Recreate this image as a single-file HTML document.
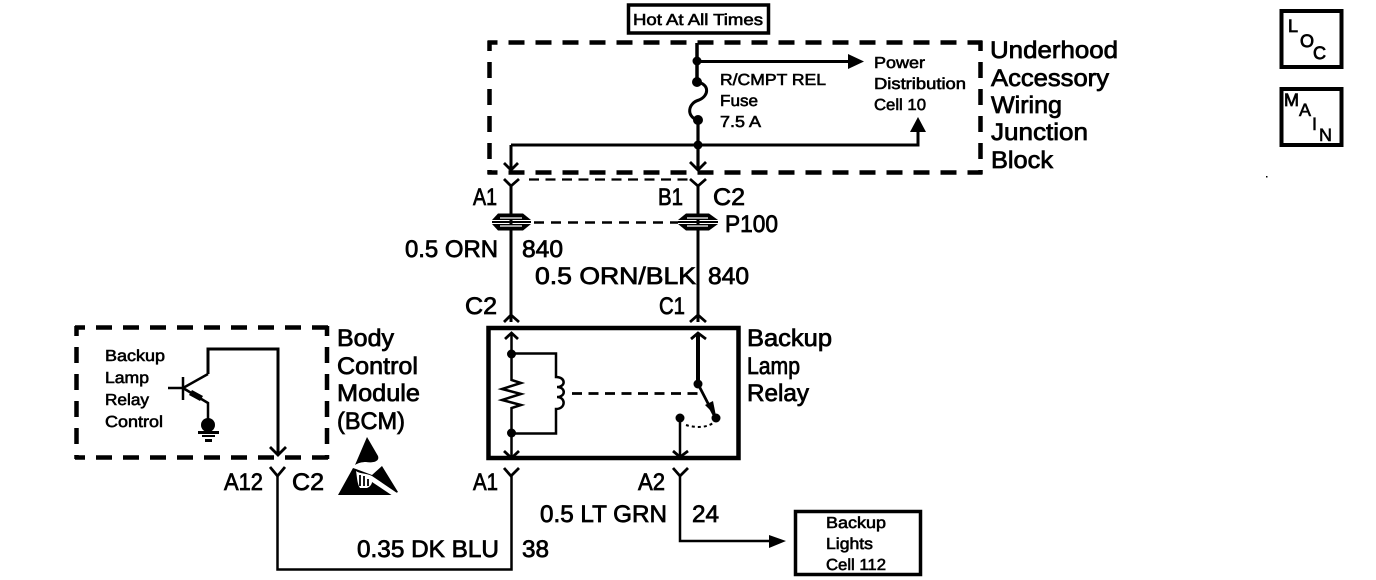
<!DOCTYPE html>
<html>
<head>
<meta charset="utf-8">
<style>
html,body{margin:0;padding:0;background:#fff;width:1376px;height:580px;overflow:hidden}
svg{display:block}
text{font-family:"Liberation Sans",sans-serif;fill:#000;stroke:#000;text-rendering:geometricPrecision}
.l{font-size:24px;stroke-width:.75px}
.s{font-size:16px;stroke-width:.6px}
.w{fill:none;stroke:#000;stroke-width:2.500}
.t{fill:none;stroke:#000;stroke-width:3.500}
.c{fill:none;stroke:#000;stroke-width:2.800}
.d{fill:none;stroke:#000;stroke-width:4.500;stroke-dasharray:16 11;stroke-dashoffset:6}
</style>
</head>
<body>
<svg width="1376" height="580" viewBox="0 0 1376 580" xmlns="http://www.w3.org/2000/svg">
<!-- Hot at all times -->
<rect x="628.500" y="5" width="140" height="28" fill="none" stroke="#000" stroke-width="3.500"/>
<text class="s" x="633" y="25" textLength="130" lengthAdjust="spacingAndGlyphs">Hot At All Times</text>

<!-- Underhood dashed box -->
<path class="d" d="M487.500 42.500H982.500"/>
<path class="d" d="M487.500 172.500H982.500"/>
<path class="d" d="M489.500 41V174"/>
<path class="d" d="M980.500 41V174"/>
<text class="l" x="990" y="58" textLength="128" lengthAdjust="spacingAndGlyphs">Underhood</text>
<text class="l" x="991" y="86" textLength="118" lengthAdjust="spacingAndGlyphs">Accessory</text>
<text class="l" x="991" y="113" textLength="71" lengthAdjust="spacingAndGlyphs">Wiring</text>
<text class="l" x="991" y="140" textLength="97" lengthAdjust="spacingAndGlyphs">Junction</text>
<text class="l" x="991" y="168" textLength="62" lengthAdjust="spacingAndGlyphs">Block</text>

<!-- Fuse section -->
<path class="t" d="M697 43V82"/>
<path d="M697 61.500H850" fill="none" stroke="#000" stroke-width="3"/>
<polygon points="848,54 864,61.500 848,69"/>
<circle cx="697" cy="61" r="4.500"/>
<circle cx="697" cy="82" r="5"/>
<circle cx="698" cy="120" r="5"/>
<path d="M697 82C710 84 709 96 699 100C688 103 686 116 697 120" fill="none" stroke="#000" stroke-width="3"/>
<path d="M698 120V168" fill="none" stroke="#000" stroke-width="3.200"/>
<path d="M511 145H918V130" fill="none" stroke="#000" stroke-width="3"/>
<polygon points="918,117 910,132 926,132"/>
<circle cx="698" cy="145" r="4.500"/>
<path d="M511 145V170" fill="none" stroke="#000" stroke-width="3"/>
<path class="c" d="M504 163L511 170L518 163"/>
<path class="c" d="M690 162L698 170L706 162"/>
<text class="s" x="720" y="85" textLength="106" lengthAdjust="spacingAndGlyphs">R/CMPT REL</text>
<text class="s" x="720" y="106" textLength="38" lengthAdjust="spacingAndGlyphs">Fuse</text>
<text class="s" x="720" y="127" textLength="41" lengthAdjust="spacingAndGlyphs">7.5 A</text>
<text class="s" x="874" y="68" textLength="51" lengthAdjust="spacingAndGlyphs">Power</text>
<text class="s" x="874" y="89" textLength="92" lengthAdjust="spacingAndGlyphs">Distribution</text>
<text class="s" x="874" y="110" textLength="52" lengthAdjust="spacingAndGlyphs">Cell 10</text>

<!-- Connector row under block -->
<path d="M529 179.500H688" fill="none" stroke="#000" stroke-width="2.200" stroke-dasharray="10 6.500"/>
<path class="c" d="M504 179L511 186L519 179"/>
<path class="c" d="M690 179L698 186L706 179"/>
<path d="M511 186V322" fill="none" stroke="#000" stroke-width="3"/>
<path d="M698 186V322" fill="none" stroke="#000" stroke-width="3"/>
<text class="l" x="473" y="205" textLength="24" lengthAdjust="spacingAndGlyphs">A1</text>
<text class="l" x="658" y="205" textLength="25" lengthAdjust="spacingAndGlyphs">B1</text>
<text class="l" x="713" y="205" textLength="32" lengthAdjust="spacingAndGlyphs">C2</text>

<!-- P100 grommets -->
<g fill="#000">
<path d="M498 213.500H523L531 220H492Z"/>
<path d="M492 224H531L523 230.500H498Z"/>
<path d="M686 213.500H709L718 220H678Z"/>
<path d="M678 224H718L709 230.500H686Z"/>
<rect x="492" y="221" width="39" height="2"/>
<rect x="678" y="221" width="40" height="2"/>
</g>
<path d="M500 218H522M687 218H708M500 226H522M687 226H708" stroke="#fff" stroke-width="1.200"/>
<path d="M534 222.500H678" fill="none" stroke="#000" stroke-width="2.500" stroke-dasharray="10 7"/>
<text class="l" x="725" y="232" textLength="53" lengthAdjust="spacingAndGlyphs">P100</text>

<text class="l" x="405" y="257" textLength="93" lengthAdjust="spacingAndGlyphs">0.5 ORN</text>
<text class="l" x="522" y="257" textLength="41" lengthAdjust="spacingAndGlyphs">840</text>
<text class="l" x="535" y="284" textLength="161" lengthAdjust="spacingAndGlyphs">0.5 ORN/BLK</text>
<text class="l" x="708" y="284" textLength="41" lengthAdjust="spacingAndGlyphs">840</text>
<text class="l" x="465" y="314" textLength="32" lengthAdjust="spacingAndGlyphs">C2</text>
<text class="l" x="659" y="314" textLength="26" lengthAdjust="spacingAndGlyphs">C1</text>
<path class="c" d="M504 322L511 315L519 322"/>
<path class="c" d="M690 322L698 315L706 322"/>

<!-- Relay box -->
<rect x="488.500" y="328" width="250" height="130" fill="none" stroke="#000" stroke-width="4.500"/>
<text class="l" x="747" y="346" textLength="85" lengthAdjust="spacingAndGlyphs">Backup</text>
<text class="l" x="747" y="374" textLength="53" lengthAdjust="spacingAndGlyphs">Lamp</text>
<text class="l" x="747" y="401" textLength="62" lengthAdjust="spacingAndGlyphs">Relay</text>
<path class="c" d="M505 339L511.500 333L518 339"/>
<path class="w" d="M511.500 333V380L521 383L502 389L521 394L502 400L521 405L511.500 408V458"/>
<path class="c" d="M504 451L511.500 458L519 451"/>
<circle cx="511.500" cy="354" r="4.500"/>
<circle cx="511.500" cy="433" r="4.500"/>
<path class="w" d="M511.500 353.500H556V377C566 377 566 387 557 387C566 387 566 397 557 397C566 397 566 409 556 409V433.500H511.500"/>
<path d="M572 393.500H702" fill="none" stroke="#000" stroke-width="2.800" stroke-dasharray="10 6.500"/>
<path d="M698 333V384" fill="none" stroke="#000" stroke-width="4"/>
<path class="c" d="M691 339L698 333L706 339"/>
<circle cx="698" cy="384" r="4.500"/>
<path d="M698 384L715 417" fill="none" stroke="#000" stroke-width="2.800"/>
<polygon points="705,405 713,401 716,416"/>
<circle cx="716" cy="418" r="4.500"/>
<circle cx="680" cy="418" r="4.500"/>
<path class="w" d="M680 418V457"/>
<path class="c" d="M673 451L680 457L688 451"/>
<path d="M686 425C695 428 708 428 714 422" fill="none" stroke="#000" stroke-width="2" stroke-dasharray="3 3"/>

<!-- Under relay wires -->
<path class="c" d="M504 468L511 476L519 468"/>
<path class="c" d="M673 468L680 476L688 468"/>
<path class="c" d="M270 467L277.500 476L285 467"/>
<path class="w" d="M511.500 476V569.500H277.500V476"/>
<path class="w" d="M680 476V541H772"/>
<polygon points="769,535 786,541 769,548"/>
<text class="l" x="473" y="490" textLength="25" lengthAdjust="spacingAndGlyphs">A1</text>
<text class="l" x="638" y="490" textLength="27" lengthAdjust="spacingAndGlyphs">A2</text>
<text class="l" x="224" y="490" textLength="39" lengthAdjust="spacingAndGlyphs">A12</text>
<text class="l" x="292" y="490" textLength="32" lengthAdjust="spacingAndGlyphs">C2</text>
<text class="l" x="540" y="522" textLength="127" lengthAdjust="spacingAndGlyphs">0.5 LT GRN</text>
<text class="l" x="692" y="522" textLength="27" lengthAdjust="spacingAndGlyphs">24</text>
<text class="l" x="357" y="557" textLength="142" lengthAdjust="spacingAndGlyphs">0.35 DK BLU</text>
<text class="l" x="522" y="557" textLength="27" lengthAdjust="spacingAndGlyphs">38</text>

<!-- Backup lights box -->
<rect x="795.500" y="511.500" width="125" height="63" fill="none" stroke="#000" stroke-width="3.500"/>
<text class="s" x="826" y="528" textLength="60" lengthAdjust="spacingAndGlyphs">Backup</text>
<text class="s" x="826" y="549" textLength="47" lengthAdjust="spacingAndGlyphs">Lights</text>
<text class="s" x="826" y="570" textLength="60" lengthAdjust="spacingAndGlyphs">Cell 112</text>

<!-- BCM -->
<path class="d" d="M75 327.500H329"/>
<path class="d" d="M75 457.500H329"/>
<path class="d" d="M76.500 326V459"/>
<path class="d" d="M327 326V459"/>
<text class="l" x="337" y="346" textLength="57" lengthAdjust="spacingAndGlyphs">Body</text>
<text class="l" x="337" y="374" textLength="81" lengthAdjust="spacingAndGlyphs">Control</text>
<text class="l" x="337" y="401" textLength="83" lengthAdjust="spacingAndGlyphs">Module</text>
<text class="l" x="337" y="429" textLength="68" lengthAdjust="spacingAndGlyphs">(BCM)</text>
<text class="s" x="105" y="361" textLength="60" lengthAdjust="spacingAndGlyphs">Backup</text>
<text class="s" x="105" y="383" textLength="44" lengthAdjust="spacingAndGlyphs">Lamp</text>
<text class="s" x="105" y="405" textLength="44" lengthAdjust="spacingAndGlyphs">Relay</text>
<text class="s" x="105" y="427" textLength="58" lengthAdjust="spacingAndGlyphs">Control</text>
<path d="M208 374V349H278V455" fill="none" stroke="#000" stroke-width="3"/>
<path class="c" d="M270 447L278 455L286 447"/>
<path class="w" d="M168 388H183M183 377V400M183 388L208 374M183 388L208 403V420"/>
<polygon points="192,390 203,396 200,401 189,395"/>
<ellipse cx="208" cy="425" rx="7" ry="7"/>
<rect x="198" y="431" width="21" height="3"/>
<rect x="202" y="435" width="13" height="2"/>
<rect x="205" y="439" width="7" height="3"/>

<!-- ESD icon -->
<path d="M367 437L378 456C380 462 372 463 366 462C362 462 358 463 355 465Z"/>
<path d="M338 495L353 468L356 469L372 475L382 466L398 492L392 495Z"/>
<path d="M356 471C360 474 366 473 372 476L397 493L393 496L372 482C372 484 370 487 367 488L360 488C357 484 357 476 356 471Z" fill="#fff"/>
<path d="M360 475V486M364 476V486M368 479V486" stroke="#000" stroke-width="1.800" fill="none"/>

<!-- LOC -->
<rect x="1281.500" y="11" width="60" height="56" fill="none" stroke="#000" stroke-width="4"/>
<text x="1288" y="32" style="font-size:18px;stroke-width:.8px">L</text>
<text x="1300" y="47" style="font-size:18px;stroke-width:.8px">O</text>
<text x="1313" y="59" style="font-size:18px;stroke-width:.8px">C</text>
<!-- MAIN -->
<rect x="1281.500" y="89" width="60" height="56" fill="none" stroke="#000" stroke-width="4"/>
<text x="1284" y="106" style="font-size:18px;stroke-width:.8px">M</text>
<text x="1299" y="116" style="font-size:18px;stroke-width:.6px">A</text>
<text x="1312" y="130" style="font-size:18px;stroke-width:.6px">I</text>
<text x="1319" y="141" style="font-size:18px;stroke-width:.6px">N</text>
<rect x="1266" y="176" width="1.500" height="1.500"/>
</svg>
</body>
</html>
